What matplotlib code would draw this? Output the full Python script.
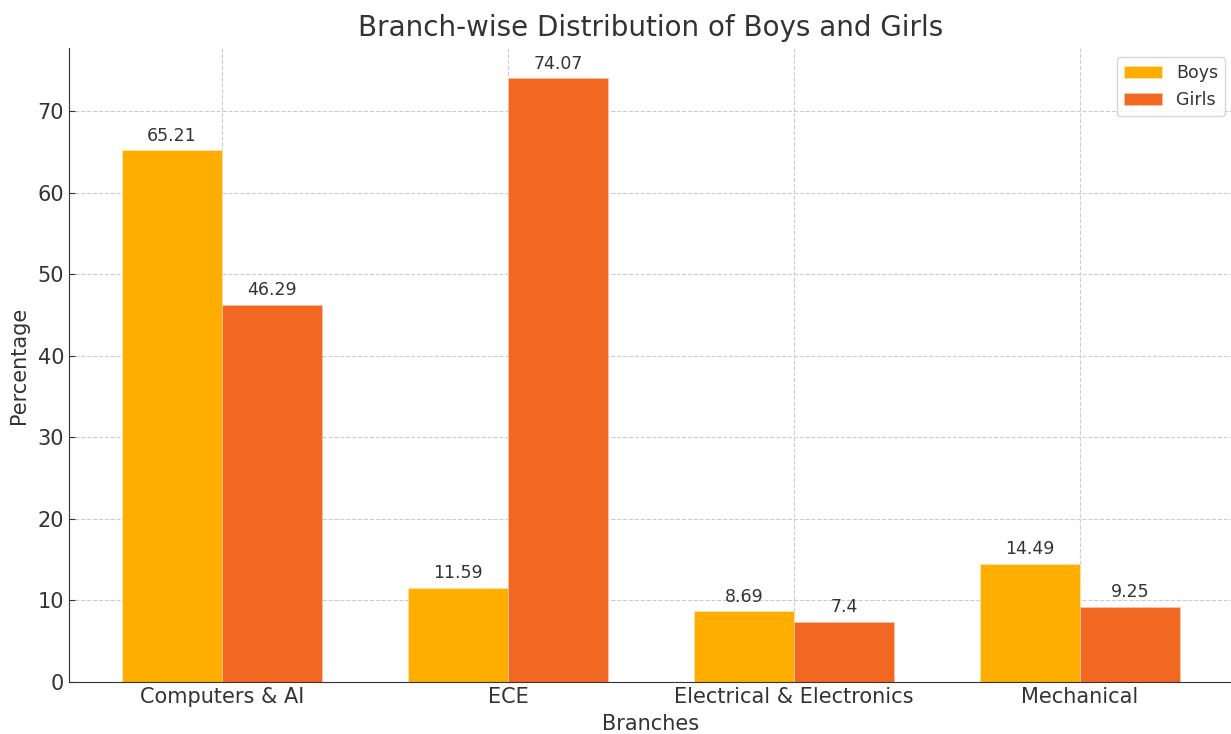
import matplotlib.pyplot as plt
import numpy as np

# Branch-wise share of boys and girls (%)
branches = ["Computers & AI", "ECE", "Electrical & Electronics", "Mechanical"]
boys = [65.21, 11.59, 8.69, 14.49]
girls = [46.29, 74.07, 7.4, 9.25]

boys_color = "#FFAE00"
girls_color = "#F26822"
text_color = "#333333"

fig = plt.figure(figsize=(12.31, 7.34), dpi=100)
ax = fig.add_axes([69 / 1231, 52 / 734, 1164 / 1231, 634 / 734])

x = np.arange(len(branches))
width = 0.35
b1 = ax.bar(x - width / 2, boys, width, label="Boys", color=boys_color,
            edgecolor="#FFE2B0", linewidth=0.6)
b2 = ax.bar(x + width / 2, girls, width, label="Girls", color=girls_color,
            edgecolor="#F9C2A5", linewidth=0.6)

# value labels above each bar
for bars in (b1, b2):
    for rect in bars:
        h = rect.get_height()
        ax.annotate(f"{h:g}", (rect.get_x() + rect.get_width() / 2, h),
                    xytext=(0, 4), textcoords="offset points",
                    ha="center", va="bottom", fontsize=12.5, color=text_color)

ax.set_title("Branch-wise Distribution of Boys and Girls", fontsize=20,
             color=text_color, pad=9)
ax.set_xlabel("Branches", fontsize=15, color=text_color, labelpad=5)
ax.set_ylabel("Percentage", fontsize=15, color=text_color, labelpad=6)
ax.set_xticks(x)
ax.set_xticklabels(branches)
ax.tick_params(axis="both", direction="in", labelsize=15, colors=text_color, length=4)
ax.grid(True, linestyle="--", color="#cccccc", linewidth=0.8)
ax.set_axisbelow(True)
for side in ("top", "right"):
    ax.spines[side].set_visible(False)
for side in ("left", "bottom"):
    ax.spines[side].set_color(text_color)

leg = ax.legend(loc="upper right", fontsize=12.5, labelcolor=text_color,
                bbox_to_anchor=(0.999, 0.996), borderaxespad=0.4,
                handlelength=2.2)

fig.savefig("out.png")
